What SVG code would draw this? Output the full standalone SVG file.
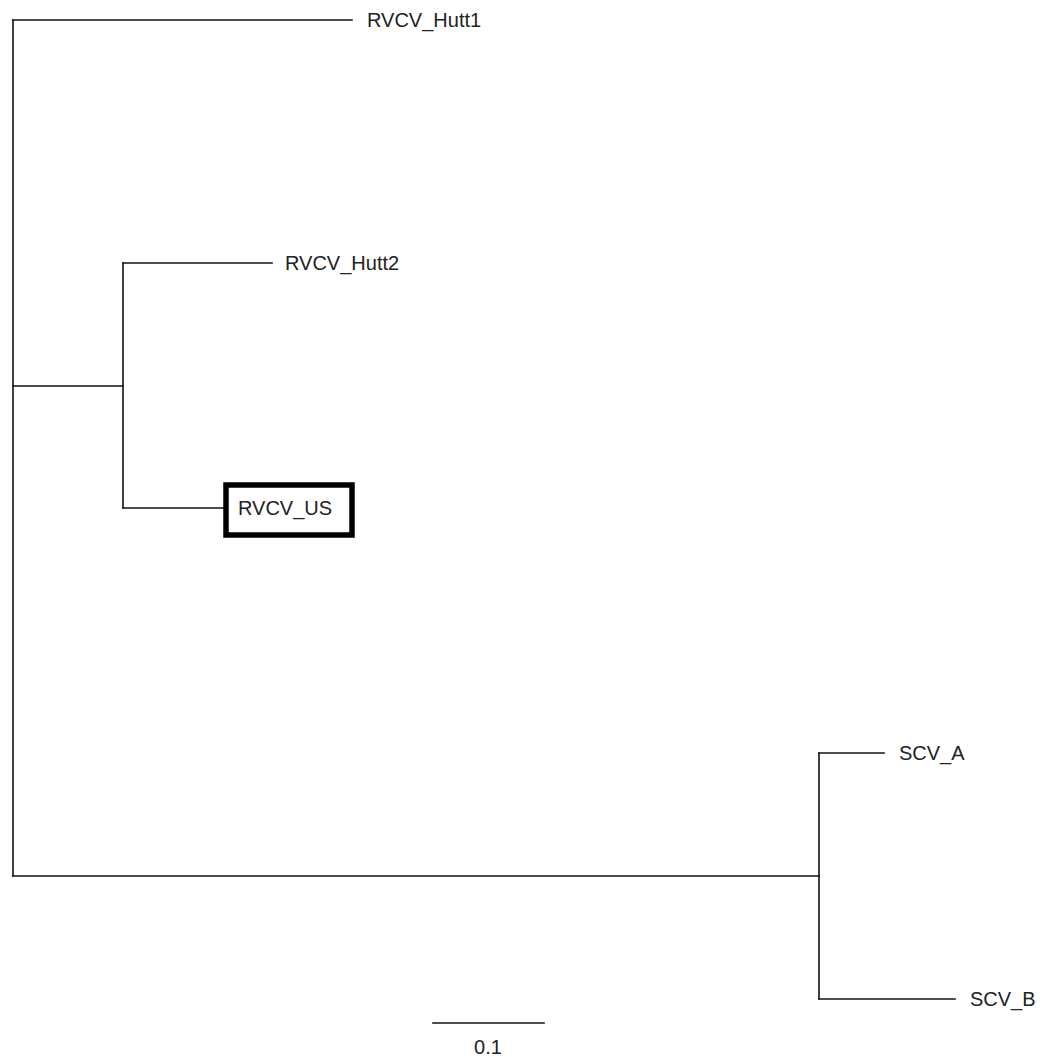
<svg xmlns="http://www.w3.org/2000/svg" width="1051" height="1057" viewBox="0 0 1051 1057">
<style>
.e{stroke:#111;stroke-width:1.6;fill:none;stroke-linecap:square}
.t{font-family:"Liberation Sans",Arial,sans-serif;font-size:20px;fill:#222}
.box{fill:#fff;stroke:#000;stroke-width:5.5}
</style>
<rect width="1051" height="1057" fill="#fff"/>
<g id="connectors">
<path class="e" d="M13,20 V876"/>
<path class="e" d="M13,20 H352"/>
<path class="e" d="M13,386 H123"/>
<path class="e" d="M123,263 V508"/>
<path class="e" d="M123,263 H272"/>
<path class="e" d="M123,508 H224"/>
<path class="e" d="M13,876 H819"/>
<path class="e" d="M819,753 V999"/>
<path class="e" d="M819,753 H884"/>
<path class="e" d="M819,999 H955"/>
</g>
<g id="RVCV_Hutt1"><text class="t" x="367" y="27">RVCV_Hutt1</text></g>
<g id="RVCV_Hutt2"><text class="t" x="285" y="270">RVCV_Hutt2</text></g>
<g id="RVCV_US"><rect class="box" x="226" y="485" width="126" height="50"/><text class="t" x="238" y="515">RVCV_US</text></g>
<g id="SCV_A"><text class="t" x="899" y="760">SCV_A</text></g>
<g id="SCV_B"><text class="t" x="970" y="1006">SCV_B</text></g>
<g id="scale"><path class="e" d="M433,1023 H544"/><text class="t" x="488" y="1054" text-anchor="middle">0.1</text></g>
</svg>
